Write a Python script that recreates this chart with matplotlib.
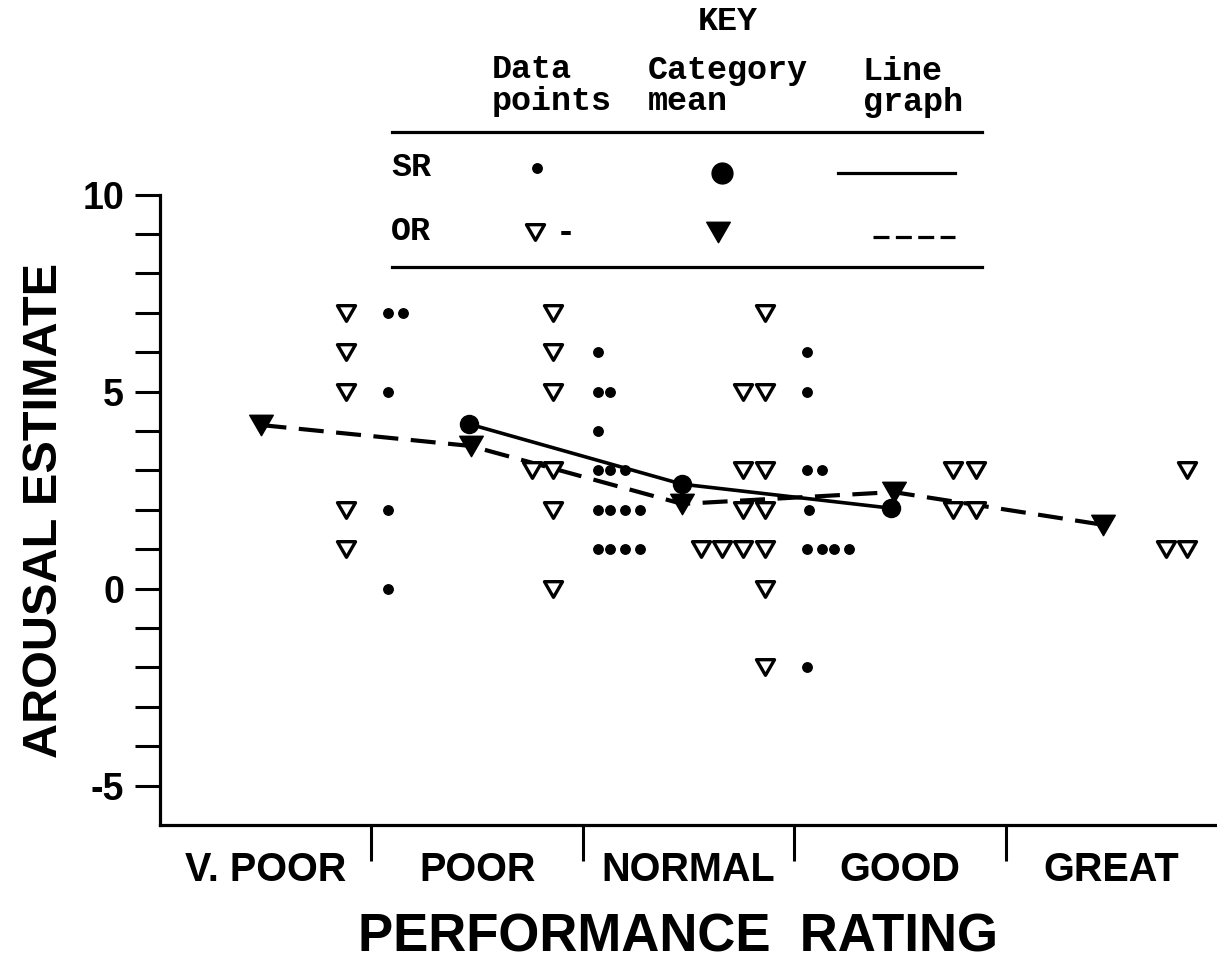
import matplotlib
matplotlib.use("Agg")
import matplotlib.pyplot as plt
from matplotlib.path import Path
from matplotlib.ticker import FixedLocator, NullFormatter

# ---------------- data ----------------
categories = ["V. POOR", "POOR", "NORMAL", "GOOD", "GREAT"]
category_boundaries = [1, 2, 3, 4]

# OR individual data points (open down-triangles)
or_x = [0.88, 0.88, 0.88, 0.88, 0.88,
        1.86, 1.86, 1.86, 1.76, 1.86, 1.86, 1.86,
        2.86, 2.76, 2.86, 2.76, 2.86, 2.76, 2.86, 2.56, 2.66, 2.76, 2.86, 2.86, 2.86,
        3.75, 3.86, 3.75, 3.86,
        4.86, 4.76, 4.86]
or_y = [7, 6, 5, 2, 1,
        7, 6, 5, 3, 3, 2, 0,
        7, 5, 5, 3, 3, 2, 2, 1, 1, 1, 1, 0, -2,
        3, 3, 2, 2,
        3, 1, 1]

# SR individual data points (small dots)
sr_x = [1.08, 1.15, 1.08, 1.08, 1.08,
        2.07, 2.07, 2.13, 2.07, 2.07, 2.13, 2.20, 2.07, 2.13, 2.20, 2.27, 2.07, 2.13, 2.20, 2.27,
        3.06, 3.06, 3.06, 3.13, 3.07, 3.06, 3.13, 3.19, 3.26, 3.06]
sr_y = [7, 7, 5, 2, 0,
        6, 5, 5, 4, 3, 3, 3, 2, 2, 2, 2, 1, 1, 1, 1,
        6, 5, 3, 3, 2, 1, 1, 1, 1, -2]

# category means
or_mean_x = [0.48, 1.47, 2.47, 3.47, 4.46]
or_mean_y = [4.15, 3.62, 2.15, 2.45, 1.62]
sr_mean_x = [1.46, 2.47, 3.46]
sr_mean_y = [4.18, 2.65, 2.04]

y_major = [-5, 0, 5, 10]
y_minor = [-4, -3, -2, -1, 1, 2, 3, 4, 6, 7, 8, 9]

# ---------------- figure ----------------
W, H = 1217, 963
fig = plt.figure(figsize=(W / 100, H / 100), dpi=100)
ax = fig.add_axes([160 / W, 138 / H, 1057 / W, 825 / H])
ax.set_xlim(0, 5)
ax.set_ylim(-6, -6 + 825 / 39.4)

sans = "Liberation Sans"
mono = "Liberation Mono"

# equilateral down-pointing triangle marker
tri = Path([(-1, 0.866), (1, 0.866), (0, -0.866), (-1, 0.866)],
           [Path.MOVETO, Path.LINETO, Path.LINETO, Path.CLOSEPOLY])

for s in ("top", "right"):
    ax.spines[s].set_visible(False)
ax.spines["left"].set_bounds(-6, 10)
ax.spines["left"].set_linewidth(2.3)
ax.spines["bottom"].set_linewidth(2.3)

# y ticks
ax.yaxis.set_major_locator(FixedLocator(y_major))
ax.yaxis.set_minor_locator(FixedLocator(y_minor))
ax.set_yticklabels([str(v) for v in y_major], fontfamily=sans, fontweight="bold", fontsize=27)
ax.tick_params(axis="y", which="both", direction="out", length=18, width=2.2, pad=8)

# x ticks: boundaries as major ticks, category labels as minor
ax.xaxis.set_major_locator(FixedLocator(category_boundaries))
ax.xaxis.set_major_formatter(NullFormatter())
ax.xaxis.set_minor_locator(FixedLocator([i + 0.5 for i in range(len(categories))]))
ax.set_xticklabels(categories, minor=True, fontfamily=sans, fontweight="bold", fontsize=28.5)
ax.tick_params(axis="x", which="major", direction="out", length=26, width=2.2)
ax.tick_params(axis="x", which="minor", length=0, pad=19)

# data points
ax.plot(or_x, or_y, linestyle="none", marker=tri, markersize=13, markerfacecolor="white",
        markeredgecolor="black", markeredgewidth=2.4, zorder=3)
ax.plot(sr_x, sr_y, linestyle="none", marker="o", markersize=6.8, color="black", zorder=3)

# lines and means
ax.plot(or_mean_x, or_mean_y, color="black", lw=3, linestyle=(0, (6, 3)), zorder=2)
ax.plot(sr_mean_x, sr_mean_y, color="black", lw=2.6, linestyle="-", zorder=2)
ax.plot(or_mean_x, or_mean_y, linestyle="none", marker=tri, markersize=17, color="black", zorder=4)
ax.plot(sr_mean_x, sr_mean_y, linestyle="none", marker="o", markersize=13, color="black", zorder=4)

# axis titles
fig.text(678 / W, 1 - 937 / H, "PERFORMANCE  RATING", ha="center", va="center",
         fontfamily=sans, fontweight="bold", fontsize=38)
fig.text(45 / W, 1 - 510 / H, "AROUSAL ESTIMATE", ha="center", va="center", rotation=90,
         fontfamily=sans, fontweight="bold", fontsize=35)

# ---------------- key ----------------
def fx(px):
    return px / W

def fy(py):
    return 1 - py / H

kfs = 24
kw = "bold"
fig.text(fx(728), fy(22), "KEY", ha="center", va="center", fontfamily=mono, fontsize=kfs, fontweight=kw)
fig.text(fx(492), fy(70), "Data", ha="left", va="center", fontfamily=mono, fontsize=kfs, fontweight=kw)
fig.text(fx(492), fy(101), "points", ha="left", va="center", fontfamily=mono, fontsize=kfs, fontweight=kw)
fig.text(fx(648), fy(70), "Category", ha="left", va="center", fontfamily=mono, fontsize=kfs, fontweight=kw)
fig.text(fx(648), fy(101), "mean", ha="left", va="center", fontfamily=mono, fontsize=kfs, fontweight=kw)
fig.text(fx(863), fy(72), "Line", ha="left", va="center", fontfamily=mono, fontsize=kfs, fontweight=kw)
fig.text(fx(863), fy(103), "graph", ha="left", va="center", fontfamily=mono, fontsize=kfs, fontweight=kw)
fig.text(fx(391), fy(168), "SR", ha="left", va="center", fontfamily=mono, fontsize=kfs, fontweight=kw)
fig.text(fx(391), fy(232), "OR", ha="left", va="center", fontfamily=mono, fontsize=kfs, fontweight=kw)

for py in (132, 267):
    fig.add_artist(plt.Line2D([fx(392), fx(982)], [fy(py), fy(py)], color="black", lw=2.3))

fig.add_artist(plt.Line2D([fx(537)], [fy(168)], linestyle="none", marker="o", markersize=6.8,
                          color="black"))
fig.add_artist(plt.Line2D([fx(722)], [fy(173)], linestyle="none", marker="o", markersize=15,
                          color="black"))
fig.add_artist(plt.Line2D([fx(838), fx(955)], [fy(173), fy(173)], color="black", lw=2.3))
fig.add_artist(plt.Line2D([fx(535)], [fy(232)], linestyle="none", marker=tri, markersize=13,
                          markerfacecolor="white", markeredgecolor="black", markeredgewidth=2.4))
fig.text(fx(566), fy(233), "-", ha="center", va="center", fontfamily=mono, fontsize=kfs,
         fontweight="bold")
fig.add_artist(plt.Line2D([fx(718)], [fy(232)], linestyle="none", marker=tri, markersize=17,
                          color="black"))
fig.add_artist(plt.Line2D([fx(873), fx(955)], [fy(237), fy(237)], color="black", lw=2.3,
                          linestyle=(0, (5, 2))))

fig.savefig("out.png", dpi=100)
